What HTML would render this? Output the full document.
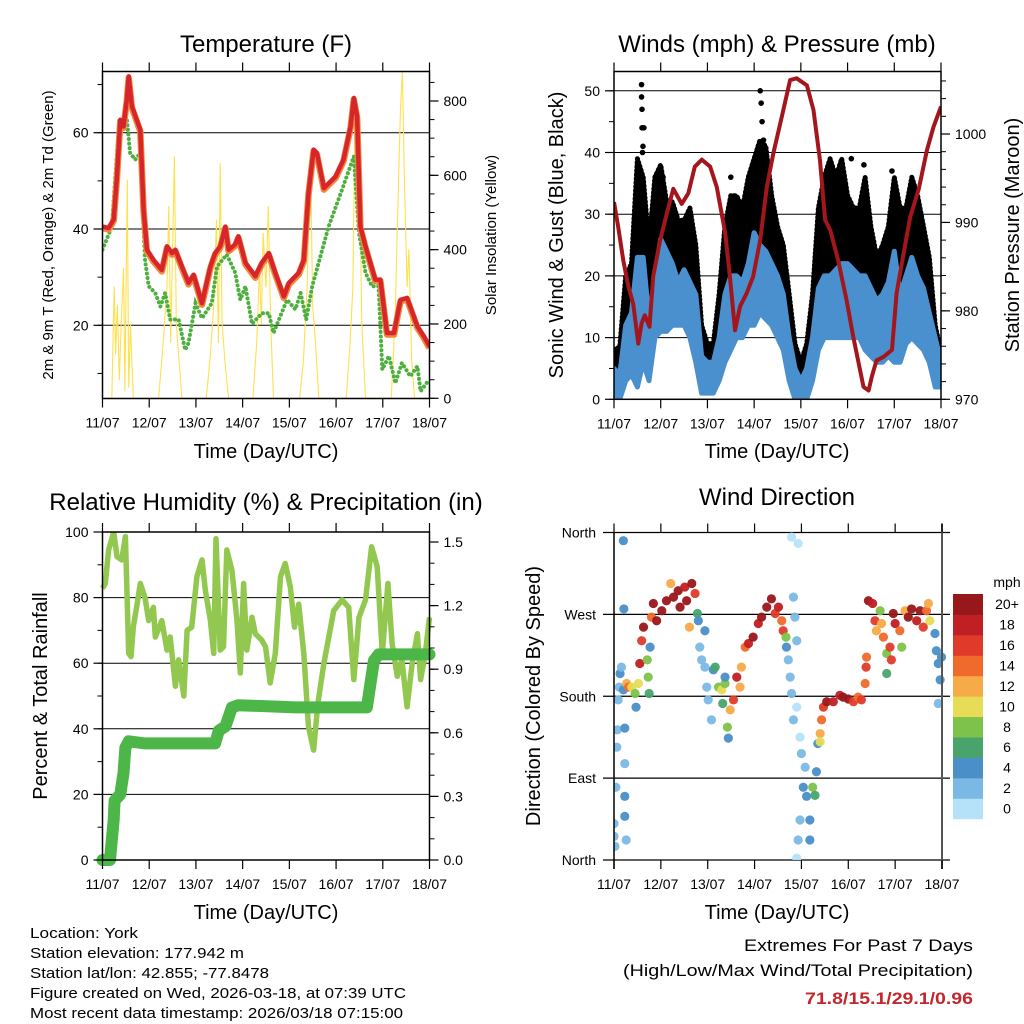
<!DOCTYPE html>
<html><head><meta charset="utf-8"><style>
html,body{margin:0;padding:0;background:#fff;}
svg{display:block;font-family:"Liberation Sans",Arial,sans-serif;}
</style></head><body>
<svg id="c" width="1024" height="1024" viewBox="0 0 1024 1024" xmlns="http://www.w3.org/2000/svg"></svg>
<script>
// ---------- DATA ----------
const dayLabels = ["11/07","12/07","13/07","14/07","15/07","16/07","17/07","18/07"];
const tempDays = [0,.13,.24,.31,.38,.45,.52,.56,.63,.81,.88,.95,1.09,1.27,1.38,1.49,1.56,1.7,1.84,1.95,2.13,2.31,2.41,2.52,2.63,2.7,2.84,2.91,3.06,3.27,3.41,3.56,3.7,3.88,3.99,4.2,4.31,4.41,4.52,4.59,4.74,4.99,5.16,5.31,5.38,5.45,5.52,5.63,5.84,5.95,6.09,6.24,6.38,6.52,6.74,6.88,7.0];
const tempVals = [40.5,40.2,42,51,62.7,61.3,66.9,71.7,65.5,60.6,44,35.7,33.6,31.5,36.4,35,35.7,32.2,28.8,30.5,24.6,32.2,35,36.4,40.5,35.7,36.8,38.5,33,30.2,33,35,30.9,26,28.8,30.9,33.6,47.5,56.5,55.8,48.5,50.9,54.4,61.3,67.2,63.4,40.5,36.4,29.5,29.5,18.4,18.4,25.3,25.7,19.8,17.7,15.6];
const dewDays = [0,.2,.34,.52,.59,.7,.81,.91,.99,1.13,1.24,1.34,1.45,1.63,1.77,1.84,1.99,2.13,2.34,2.45,2.66,2.84,2.95,3.06,3.2,3.41,3.56,3.66,3.95,4.13,4.24,4.36,4.49,4.84,5.13,5.38,5.49,5.63,5.77,5.91,5.99,6.13,6.27,6.41,6.59,6.74,6.81,6.99];
const dewVals = [35.7,40.5,59.9,63,55.8,54.4,55.8,33.6,28.1,26.7,23.9,26.7,21.2,21.2,14.9,16.3,24.6,21.5,24.6,32.2,34.7,30.9,25.3,28.1,20.3,22.5,22.5,18.4,25.3,23.3,26.7,21.2,28.1,40.5,48.2,55.1,39.2,30.9,28.1,28.1,10.8,13.6,8,12.2,9.4,11.5,6.3,8.7];
const solarDays = [0,.2,.25,.28,.32,.36,.4,.45,.48,.53,.56,.6,.66,1.2,1.3,1.38,1.42,1.46,1.5,1.54,1.58,1.64,1.7,2.22,2.3,2.38,2.44,2.48,2.52,2.56,2.62,2.7,3.22,3.3,3.36,3.4,3.44,3.5,3.55,3.6,3.66,4.22,4.3,4.38,4.42,4.45,4.5,4.56,4.63,5.22,5.3,5.36,5.4,5.45,5.5,5.55,5.63,6.18,6.26,6.32,6.38,6.42,6.46,6.52,6.56,6.62,6.68,7];
const solarVals = [0,0,300,120,250,50,200,350,20,587,30,200,0,0,150,300,516,150,400,650,200,100,0,0,100,250,480,150,632,200,100,0,0,150,350,200,444,300,516,200,0,0,100,300,500,659,250,150,0,0,150,300,730,500,640,200,0,0,200,500,780,879,600,300,400,100,0,0];
const windDays = [0,.125,.25,.375,.5,.625,.75,.875,1,1.125,1.25,1.375,1.5,1.625,1.75,1.875,2,2.125,2.25,2.375,2.5,2.625,2.75,2.875,3,3.125,3.25,3.375,3.5,3.625,3.75,3.875,4,4.125,4.25,4.375,4.5,4.625,4.75,4.875,5,5.125,5.25,5.375,5.5,5.625,5.75,5.875,6,6.125,6.25,6.375,6.5,6.625,6.75,6.875,7];
const gustLow = [2,3.7,12,9,14,12,6,20,22,20,20,20,20,17,12,2,2,3,6,9,17,17,17,20,20,22,22,20,17,13,6,.5,0,1,6,14,20,20,17,20,17,17,14,17,12,12,12,14,14,14,17,20,17,17,9,4,3];
const gustHigh = [8,8.5,20,22,39,36,25,36,38,32,32,29,29,31,25,12,9,9,17,28,33,33,31,36,39,42,41,33,28,25,17,9,6,9,17,31,36,39,36,39,33,31,31,36,28,23,25,28,36,31,31,36,33,28,23,12,7.5];
const windLow = [0,0,3,4,2,6,3,10,11,11,12,12,12,10,6,1,1,1,3,6,8,10,10,12,12,14,13,12,10,8,3,0,0,0,3,8,10,10,10,10,10,10,10,8,7,6,6,7,6,6,9,10,9,8,6,2,2];
const windHigh = [5,4,12,14,23,23,13,20,26,24,22,19,21,19,17,7,6,6,10,17,20,20,19,22,27,25,24,22,20,17,10,5,3,5,10,18,20,20,21,22,22,21,20,20,18,16,17,19,24,17,20,23,20,18,14,10,6];
const spikeDays = [.59,.59,.6,.6,.61,.64,.62,3.13,3.15,3.17,3.2,.98,2.5,5.08,5.35,5.95,6.4,1.05,4.6];
const spikeVals = [51,49,47,44,40,44,41,50,48,45,42,37,36,39,38,37,35,36,37];
const presDays = [0,.09,.2,.31,.41,.52,.59,.66,.76,.84,.99,1.13,1.27,1.45,1.59,1.73,1.88,2.06,2.2,2.38,2.48,2.59,2.7,2.84,2.98,3.13,3.27,3.41,3.59,3.77,3.91,4.13,4.27,4.41,4.52,4.63,4.8,4.98,5.12,5.34,5.45,5.52,5.62,5.77,5.95,6.05,6.2,6.34,6.52,6.7,6.84,7.0];
const presVals = [992.3,989.5,985.7,982.7,980.8,976.3,978.6,979.5,978.2,983.9,988,991,993.8,992.1,993.3,996.3,997.1,996.3,994,988.8,983.9,977.8,980.5,982,983.9,988,994,997.8,1001.9,1006.1,1006.3,1005.5,1002.7,997,990.3,989.1,985.7,981.2,977.1,971.4,971,972.6,974.4,974.8,975.6,982,986.5,990.6,993.7,998.2,1000.8,1003.1];
const rhDays = [0,.06,.13,.24,.31,.41,.49,.56,.61,.66,.74,.81,.91,.99,1.09,1.13,1.27,1.38,1.45,1.56,1.63,1.74,1.81,1.91,2.02,2.13,2.2,2.31,2.38,2.43,2.52,2.59,2.66,2.77,2.88,2.95,3.02,3.09,3.2,3.27,3.41,3.49,3.59,3.7,3.81,3.91,4.02,4.11,4.2,4.31,4.41,4.52,4.61,4.74,4.95,5.13,5.27,5.38,5.49,5.63,5.76,5.88,5.99,6.11,6.2,6.31,6.41,6.52,6.63,6.74,6.81,6.91,7.0];
const rhVals = [82.8,84.3,94.5,100,92.5,91.5,98.6,63,62,71,78,84.3,80,73,77,68,73,64,68,53,61,50,70,71,86.4,91.5,82.3,73,63,98,64,65,94.5,88.4,73,57,84.3,64,74,69,67,65,54,63,86.4,90.4,83.3,71,78,63,40.6,33.5,47.8,60,76,79.3,77,55,74,79.3,95.5,89.4,63,84.3,66,56,61,46.7,60,69,55,63,74];
const rainDays = [0,.16,.2,.24,.26,.38,.45,.49,.56,.91,2.41,2.49,2.63,2.77,2.91,4.13,5.66,5.81,5.91,7];
const rainVals = [0,0,.094,.19,.28,.31,.41,.53,.56,.55,.55,.61,.63,.72,.73,.72,.72,.94,.97,.97];
const dirDays = [0,0,.02,.04,.06,.07,.09,.11,.13,.16,.2,.2,.21,.23,.23,.23,.23,.26,.27,.31,.38,.45,.52,.47,.55,.59,.63,.71,.73,.75,.77,.8,.84,.91,1.02,1.12,1.21,1.27,1.37,1.41,1.51,1.55,1.61,1.66,1.73,1.78,1.8,1.83,1.87,1.94,1.94,1.98,2.01,2.08,2.12,2.16,2.23,2.3,2.37,2.37,2.32,2.42,2.44,2.48,2.55,2.62,2.69,2.72,2.8,2.87,2.97,3.08,3.15,3.26,3.36,3.44,3.51,3.58,3.61,3.67,3.68,3.72,3.76,3.79,3.83,3.86,3.9,3.79,3.93,3.83,3.9,3.97,4.0,4.08,4.04,4.11,3.97,3.93,3.9,4.18,4.18,4.24,4.29,4.32,4.35,4.4,4.4,4.43,4.47,4.54,4.68,4.82,4.89,5.0,5.11,5.21,5.28,5.36,5.38,5.39,5.43,5.52,5.57,5.6,5.68,5.71,5.75,5.82,5.82,5.89,5.92,5.96,6.0,6.1,6.14,6.21,6.28,6.35,6.46,6.53,6.6,6.67,6.71,6.74,6.85,6.88,6.92,6.96,6.92,6.99];
const dirVals = [40,26,15,80,124,143,176,190,205,212,187,351,276,145,106,70,48,22,194,190,190,183,194,168,216,241,256,220,201,183,234,267,282,263,274,285,304,289,296,278,300,285,256,304,293,271,263,234,220,252,212,190,176,154,209,212,190,187,194,201,172,146,134,165,176,201,190,212,234,238,245,260,267,278,287,271,278,263,252,245,234,220,201,183,289,267,241,355,348,154,168,135,117,102,80,70,44,22,2,44,22,80,71,97,128,139,130,154,168,174,174,181,179,177,174,179,176,194,212,223,285,282,263,252,274,260,245,227,205,234,220,271,260,252,234,274,267,276,263,274,256,274,282,263,249,230,216,198,172,223];
const dirSpeeds = [3,3,2,2,2,2,3,3,4,2,4,4,4,4,3,4,4,2,12,14,10,8,10,4,18,16,20,8,8,6,4,14,20,20,20,20,12,20,20,20,18,20,12,20,16,6,4,2,2,4,2,2,3,2,4,6,8,10,8,4,6,8,4,12,16,18,12,12,14,18,20,18,20,20,20,16,18,14,16,8,4,2,2,2,2,2,2,0,0,2,0,0,2,2,4,4,2,2,0,4,4,8,6,4,4,12,10,14,16,20,18,18,20,20,16,14,16,14,16,14,20,18,16,12,8,12,14,8,6,16,16,20,18,14,8,12,20,20,18,20,16,14,12,10,4,4,4,4,2,4];
const cbLabels = ["0","2","4","6","8","10","12","14","16","18","20+"];
const cbColors = ["#b5e2f8","#7ab9e4","#4a8fc7","#48a46c","#7dc24b","#e6dc56","#f7aa48","#f06a2b","#e03b2a","#c01f23","#98171a"];

// ---------- HELPERS ----------
const NS = "http://www.w3.org/2000/svg";
const svg = document.getElementById("c");
function mk(tag, attrs, parent){
  const e = document.createElementNS(NS, tag);
  for (const k in attrs) e.setAttribute(k, attrs[k]);
  (parent || svg).appendChild(e);
  return e;
}
function lin(d0,d1,r0,r1){ return v => r0 + (v-d0)*(r1-r0)/(d1-d0); }
function txt(x,y,s,size,anchor,extra,parent){
  const t = mk("text", Object.assign({x:x,y:y,"font-size":size,"text-anchor":anchor||"middle",fill:"#000"}, extra||{}), parent);
  t.textContent = s;
  return t;
}
function pathFrom(xs, ys, fx, fy){
  let d = "";
  for (let i=0;i<xs.length;i++) d += (i?"L":"M") + fx(xs[i]).toFixed(1) + "," + fy(ys[i]).toFixed(1);
  return d;
}
function clip(id,x0,y0,x1,y1){
  const cp = mk("clipPath",{id:id});
  mk("rect",{x:x0,y:y0,width:x1-x0,height:y1-y0},cp);
}
function xAxis(g, x0, x1, yb, yt, fx){
  for (let i=0;i<dayLabels.length;i++){
    const x = fx(i);
    const tb = mk("line",{x1:x,x2:x,y1:yb,y2:yb+9,stroke:"#000","stroke-width":1.2},g);
    
    
    const tt = mk("line",{x1:x,x2:x,y1:yt,y2:yt-9,stroke:"#000","stroke-width":1.2},g);
    
    
    const lb = txt(x, yb+29, dayLabels[i], 14, "middle", {}, g);
    
    
  }
}
function yTicks(g, side, xEdge, fy, vals, labels, minor){
  const dir = side==="left" ? -1 : 1;
  for (const v of minor){
    const y = fy(v);
    const t = mk("line",{x1:xEdge,x2:xEdge+dir*5,y1:y,y2:y,stroke:"#000","stroke-width":1},g);
    
    
  }
  for (let i=0;i<vals.length;i++){
    const y = fy(vals[i]);
    const t = mk("line",{x1:xEdge,x2:xEdge+dir*9,y1:y,y2:y,stroke:"#000","stroke-width":1.2},g);
    
    
    const l = txt(xEdge+dir*14, y+5, labels[i], 14, side==="left"?"end":"start", {}, g);
    
    
  }
}
function box(g,x0,y0,x1,y1){
  const r = mk("rect",{x:x0,y:y0,width:x1-x0,height:y1-y0,fill:"none",stroke:"#000","stroke-width":1.5},g);
  
  
}
function grid(g,x0,x1,ys){
  for (const y of ys){
    const l = mk("line",{x1:x0,x2:x1,y1:y,y2:y,stroke:"#000","stroke-width":1},g);
    
    
  }
}
function range(a,b,s){ const r=[]; for(let v=a; v<=b+1e-9; v+=s) r.push(+v.toFixed(4)); return r; }

// ---------- PANEL 1: TEMPERATURE ----------
{
  const x0=102.5,x1=429.5,y0=71.5,y1=398.5;
  const fx=lin(0,7,x0,x1), fy=lin(20,60,325.3,132.7), fs=lin(0,800,398.3,101);
  const g = mk("g",{});  
  clip("cp1",x0,y0,x1,y1);
  grid(g,x0,x1,[20,40,60].map(fy));
  const d = mk("g",{"clip-path":"url(#cp1)"},g);  
  const s = mk("path",{d:pathFrom(solarDays,solarVals,fx,fs),fill:"none",stroke:"#ffe04d","stroke-width":1.1,"stroke-linejoin":"round"},d);
   
  const dw = mk("path",{d:pathFrom(dewDays,dewVals,fx,fy),fill:"none",stroke:"#4caf3e","stroke-width":4,"stroke-dasharray":"0.1 4.5","stroke-linecap":"round"},d);
   
  const t9 = mk("path",{d:pathFrom(tempDays,tempVals,fx,fy),fill:"none",stroke:"#f4873a","stroke-width":6.5,"stroke-linejoin":"round",transform:"translate(0,1.5)"},d);
   
  const t2 = mk("path",{d:pathFrom(tempDays,tempVals,fx,fy),fill:"none",stroke:"#d6262b","stroke-width":4.5,"stroke-linejoin":"round"},d);
   
  box(g,x0,y0,x1,y1);
  xAxis(g,x0,x1,y1,y0,fx);
  yTicks(g,"left",x0,fy,[20,40,60],["20","40","60"],range(10,70,10));
  yTicks(g,"right",x1,fs,[0,200,400,600,800],["0","200","400","600","800"],range(0,850,50));
  const ti = txt(266,52,"Temperature (F)",24,"middle",{},g);  
  const xt = txt(266,458,"Time (Day/UTC)",20,"middle",{},g);  
  const yl = txt(0,0,"2m & 9m T (Red, Orange) & 2m Td (Green)",15,"middle",{transform:"translate(53,235) rotate(-90)"},g);  
  const yr = txt(0,0,"Solar Insolation (Yellow)",15,"middle",{transform:"translate(496,235) rotate(-90)"},g);  
}

// ---------- PANEL 2: WINDS & PRESSURE ----------
{
  const x0=614,x1=941,y0=71.5,y1=399.3;
  const fx=lin(0,7,x0,x1), fy=lin(0,50,399.3,90.8), fp=lin(970,1000,399.3,134);
  const g = mk("g",{});  
  clip("cp2",x0,y0,x1,y1);
  grid(g,x0,x1,[10,20,30,40,50].map(fy));
  const d = mk("g",{"clip-path":"url(#cp2)"},g);  
  function band(lo,hi,col,name){
    let p = pathFrom(windDays,hi,fx,fy);
    for (let i=windDays.length-1;i>=0;i--) p += "L"+fx(windDays[i]).toFixed(1)+","+fy(lo[i]).toFixed(1);
    const e = mk("path",{d:p+"Z",fill:col,stroke:col,"stroke-width":5,"stroke-linejoin":"round","stroke-dasharray":name==="gust-band"?"1 3":"none","stroke-linecap":"round"},d);
     
  }
  band(gustLow,gustHigh,"#000","gust-band");
  for (let i=0;i<spikeDays.length;i++){
    const c = mk("circle",{cx:fx(spikeDays[i]),cy:fy(spikeVals[i]),r:2.8,fill:"#000"},d);
     
  }
  band(windLow,windHigh,"#4a90cf","wind-band");
  const pr = mk("path",{d:pathFrom(presDays,presVals,fx,fp),fill:"none",stroke:"#a3161b","stroke-width":4,"stroke-linejoin":"round"},d);
   
  box(g,x0,y0,x1,y1);
  xAxis(g,x0,x1,y1,y0,fx);
  yTicks(g,"left",x0,fy,[0,10,20,30,40,50],["0","10","20","30","40","50"],range(0,50,5));
  yTicks(g,"right",x1,fp,[970,980,990,1000],["970","980","990","1000"],range(970,1006,2));
  const ti = txt(777,52,"Winds (mph) & Pressure (mb)",24,"middle",{},g);  
  const xt = txt(777,458,"Time (Day/UTC)",20,"middle",{},g);  
  const yl = txt(0,0,"Sonic Wind & Gust (Blue, Black)",20,"middle",{transform:"translate(563,235) rotate(-90)"},g);  
  const yr = txt(0,0,"Station Pressure (Maroon)",20,"middle",{transform:"translate(1019,235) rotate(-90)"},g);  
}

// ---------- PANEL 3: RH & PRECIP ----------
{
  const x0=102.5,x1=429.5,y0=532,y1=860;
  const fx=lin(0,7,x0,x1), fy=lin(0,100,860,532), fr=lin(0,1.5,860,542);
  const g = mk("g",{});  
  clip("cp3",x0-8,y0,x1+8,y1+8);
  grid(g,x0,x1,[20,40,60,80].map(fy));
  const d = mk("g",{"clip-path":"url(#cp3)"},g);  
  const rh = mk("path",{d:pathFrom(rhDays,rhVals,fx,fy),fill:"none",stroke:"#92c84f","stroke-width":5.5,"stroke-linejoin":"round"},d);
   
  const rn = mk("path",{d:pathFrom(rainDays,rainVals,fx,fr),fill:"none",stroke:"#4cb748","stroke-width":12,"stroke-linejoin":"round","stroke-linecap":"round"},d);
   
  box(g,x0,y0,x1,y1);
  xAxis(g,x0,x1,y1,y0,fx);
  yTicks(g,"left",x0,fy,[0,20,40,60,80,100],["0","20","40","60","80","100"],range(0,100,10));
  yTicks(g,"right",x1,fr,[0,.3,.6,.9,1.2,1.5],["0.0","0.3","0.6","0.9","1.2","1.5"],range(0,1.5,.1));
  const ti = txt(266,510,"Relative Humidity (%) & Precipitation (in)",24,"middle",{},g);  
  const xt = txt(266,919,"Time (Day/UTC)",20,"middle",{},g);  
  const yl = txt(0,0,"Percent & Total Rainfall",20,"middle",{transform:"translate(47,696) rotate(-90)"},g);  
}

// ---------- PANEL 4: WIND DIRECTION ----------
{
  const x0=614,x1=942,y0=532.5,y1=860;
  const fx=lin(0,7,x0,x1), fy=lin(0,360,860,532.5);
  const g = mk("g",{});  
  clip("cp4",x0,y0-6,x1+6,y1);
  const dirTicks=[0,90,180,270,360], dirNames=["North","East","South","West","North"];
  for (let i=0;i<dirTicks.length;i++){
    const y=fy(dirTicks[i]);
    const l = mk("line",{x1:603,x2:950,y1:y,y2:y,stroke:"#000","stroke-width":1.2},g);
     
    const t = txt(596,y+5,dirNames[i],14,"end",{},g);
     
  }
  const d = mk("g",{"clip-path":"url(#cp4)"},g);  
  for (let i=0;i<dirDays.length;i++){
    const b = Math.min(10, Math.floor(dirSpeeds[i]/2));
    const c = mk("circle",{cx:fx(dirDays[i]),cy:fy(dirVals[i]),r:4.6,fill:cbColors[b],"fill-opacity":0.95},d);
     
  }
  const la = mk("line",{x1:x0,x2:x0,y1:y0,y2:y1+9,stroke:"#000","stroke-width":1.5},g);
   
  const ra = mk("line",{x1:x1,x2:x1,y1:y0-9,y2:y1+9,stroke:"#555","stroke-width":2},g);
   
  for (let i=0;i<dayLabels.length;i++){
    const x=fx(i);
    const tb = mk("line",{x1:x,x2:x,y1:y1,y2:y1+9,stroke:"#000","stroke-width":1.2},g);
     
    const tt = mk("line",{x1:x,x2:x,y1:y0,y2:y0-9,stroke:"#000","stroke-width":1.2},g);
     
    const lb = txt(x,y1+29,dayLabels[i],14,"middle",{},g);
     
  }
  const cbTop=594, cbH=224.7/11;
  for (let i=0;i<11;i++){
    const yy = cbTop + (10-i)*cbH;
    const r = mk("rect",{x:953,y:yy,width:30,height:cbH+0.5,fill:cbColors[i]},g);
     
    const t = txt(1007,yy+cbH/2+5,cbLabels[i],14,"middle",{},g);
     
  }
  const mu = txt(1007,587,"mph",14,"middle",{},g);  
  const ti = txt(777,505,"Wind Direction",24,"middle",{},g);  
  const xt = txt(777,919,"Time (Day/UTC)",20,"middle",{},g);  
  const yl = txt(0,0,"Direction (Colored By Speed)",20,"middle",{transform:"translate(540,696) rotate(-90)"},g);  
}

// ---------- FOOTER ----------
{
  const info = ["Location: York","Station elevation: 177.942 m","Station lat/lon: 42.855; -77.8478","Figure created on Wed, 2026-03-18, at 07:39 UTC","Most recent data timestamp: 2026/03/18 07:15:00"];
  const widths = [108,214,239,376,373];
  for (let i=0;i<info.length;i++){
    const t = txt(30,938+i*20,info[i],15,"start",{textLength:widths[i],lengthAdjust:"spacingAndGlyphs"});
     
  }
  const e1 = txt(973,951,"Extremes For Past 7 Days",17,"end",{textLength:229,lengthAdjust:"spacingAndGlyphs"});
   
  const e2 = txt(973,976,"(High/Low/Max Wind/Total Precipitation)",17,"end",{textLength:350,lengthAdjust:"spacingAndGlyphs"});
   
  const e3 = txt(973,1004,"71.8/15.1/29.1/0.96",17,"end",{fill:"#c0282d","font-weight":"bold",textLength:168,lengthAdjust:"spacingAndGlyphs"});
   
}
</script>
</body></html>
